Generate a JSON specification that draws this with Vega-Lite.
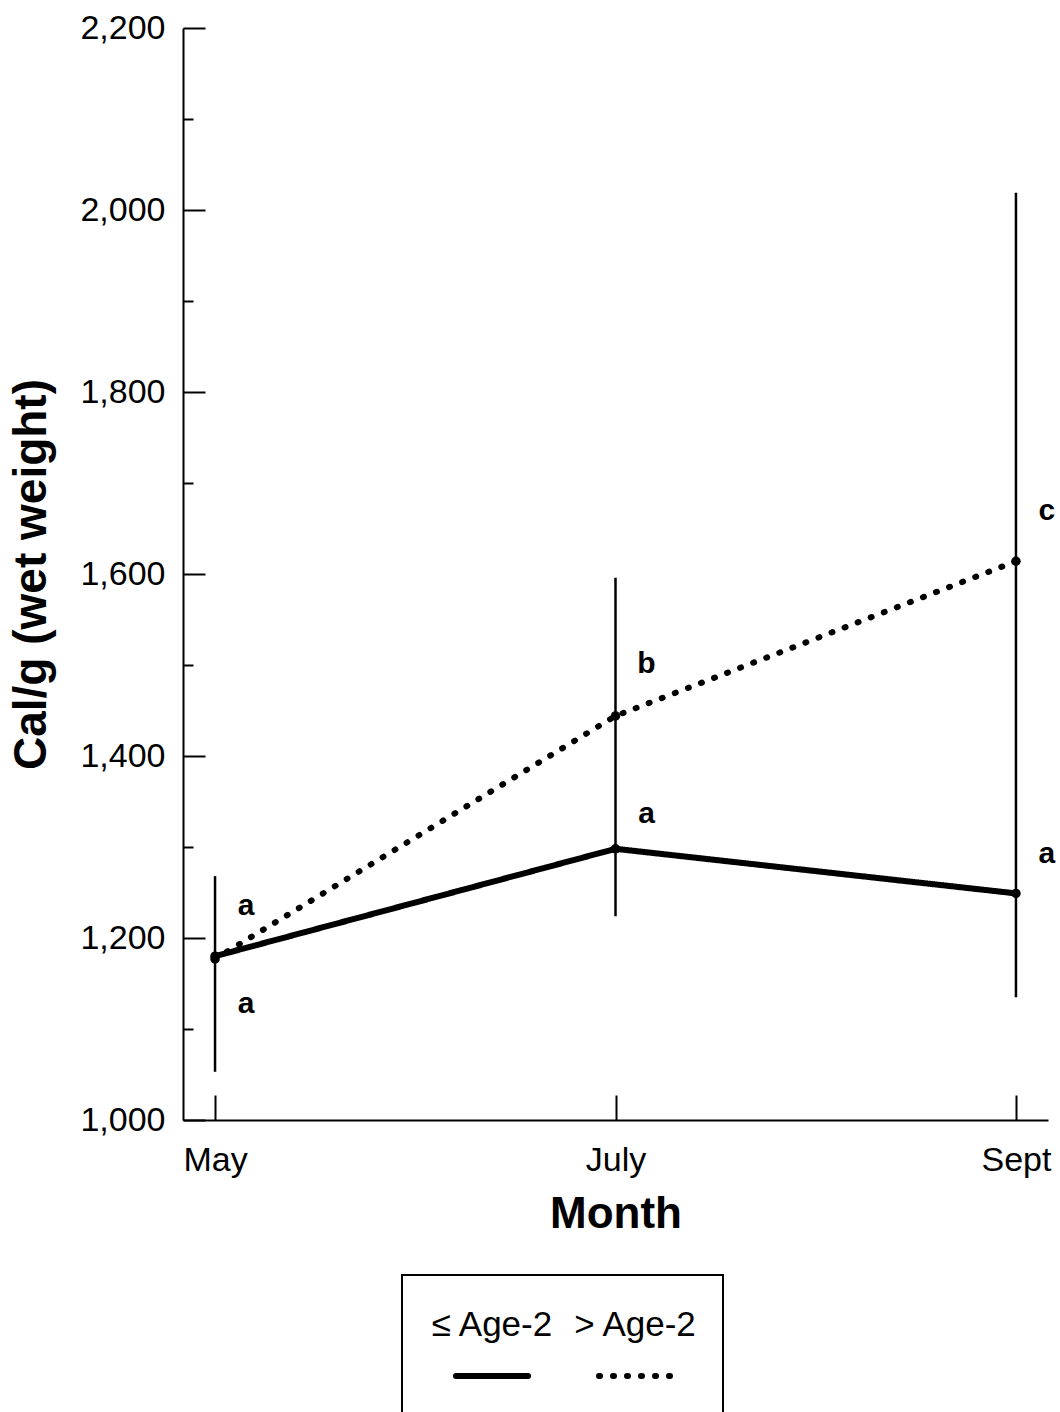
{
  "$schema": "https://vega.github.io/schema/vega-lite/v6.json",
  "width": 865,
  "height": 1092,
  "autosize": {"type": "none"},
  "padding": {"left": 183, "top": 28, "right": 12, "bottom": 292},
  "background": "white",
  "config": {
    "font": "Liberation Sans",
    "view": {"stroke": null},
    "axis": {
      "grid": false,
      "domainColor": "black",
      "domainWidth": 2,
      "tickColor": "black",
      "tickWidth": 2,
      "labelColor": "black",
      "titleColor": "black",
      "labelFont": "Liberation Sans",
      "titleFont": "Liberation Sans"
    }
  },
  "datasets": {
    "means": [
      {"month": "May", "group": "≤ Age-2", "cal": 1180},
      {"month": "July", "group": "≤ Age-2", "cal": 1298},
      {"month": "Sept", "group": "≤ Age-2", "cal": 1249},
      {"month": "May", "group": "> Age-2", "cal": 1177},
      {"month": "July", "group": "> Age-2", "cal": 1444},
      {"month": "Sept", "group": "> Age-2", "cal": 1614}
    ],
    "errors": [
      {"month": "May", "cal": 1053, "cal_high": 1268},
      {"month": "July", "cal": 1224, "cal_high": 1596},
      {"month": "Sept", "cal": 1135, "cal_high": 2019}
    ],
    "letters": [
      {"month": "May", "cal": 1225, "letter": "a"},
      {"month": "May", "cal": 1118, "letter": "a"},
      {"month": "July", "cal": 1491, "letter": "b"},
      {"month": "July", "cal": 1326, "letter": "a"},
      {"month": "Sept", "cal": 1659, "letter": "c"},
      {"month": "Sept", "cal": 1282, "letter": "a"}
    ]
  },
  "encoding": {
    "x": {
      "field": "month",
      "type": "ordinal",
      "scale": {"type": "point", "domain": ["May", "July", "Sept"], "padding": 0.08},
      "axis": {
        "title": "Month",
        "titleFontSize": 44,
        "titleFontWeight": "bold",
        "titlePadding": 15,
        "labelFontSize": 34,
        "labelAngle": 0,
        "labelPadding": 48,
        "tickSize": -25
      }
    },
    "y": {
      "field": "cal",
      "type": "quantitative",
      "scale": {"domain": [1000, 2200], "nice": false, "zero": false},
      "axis": {
        "title": "Cal/g (wet weight)",
        "titleFontSize": 46,
        "titleFontWeight": "bold",
        "titlePadding": 24,
        "values": [1000, 1100, 1200, 1300, 1400, 1500, 1600, 1700, 1800, 1900, 2000, 2100, 2200],
        "labelExpr": "datum.value % 200 === 0 ? format(datum.value, ',') : ''",
        "labelFontSize": 34,
        "labelPadding": 40,
        "tickSize": {"condition": {"test": "datum.value % 200 === 0", "value": -22}, "value": -10}
      }
    }
  },
  "layer": [
    {
      "data": {"name": "errors"},
      "mark": {"type": "rule", "color": "black", "strokeWidth": 2.5},
      "encoding": {"y2": {"field": "cal_high"}}
    },
    {
      "data": {"name": "means"},
      "mark": {"type": "line", "color": "black", "strokeWidth": 6, "strokeCap": "round"},
      "encoding": {
        "strokeDash": {
          "field": "group",
          "type": "nominal",
          "scale": {"domain": ["≤ Age-2", "> Age-2"], "range": [[1, 0], [1, 13]]},
          "legend": {
            "title": " ",
            "titleOrient": "top",
            "titleFontSize": 28,
            "titlePadding": 8,
            "orient": "none",
            "legendX": 219,
            "legendY": 1247,
            "direction": "horizontal",
            "symbolType": "stroke",
            "symbolSize": 5184,
            "symbolStrokeWidth": 6,
            "symbolStrokeColor": "black",
            "symbolOffset": 25,
            "labelFontSize": 35,
            "labelFont": "Liberation Sans",
            "labelColor": "black",
            "labelAlign": "center",
            "labelOffset": -39,
            "strokeColor": "black",
            "fillColor": "white",
            "padding": 26,
            "columnPadding": 17,
            "encoding": {
              "labels": {"dy": {"value": -51}},
              "symbols": {"strokeCap": {"value": "round"}},
              "legend": {"strokeWidth": {"value": 2}}
            }
          }
        }
      }
    },
    {
      "data": {"name": "means"},
      "mark": {"type": "point", "filled": true, "color": "black", "size": 90, "opacity": 1}
    },
    {
      "data": {"name": "letters"},
      "mark": {"type": "text", "dx": 31, "align": "center", "baseline": "alphabetic", "fontSize": 30, "fontWeight": "bold", "color": "black"},
      "encoding": {"text": {"field": "letter"}}
    }
  ]
}
